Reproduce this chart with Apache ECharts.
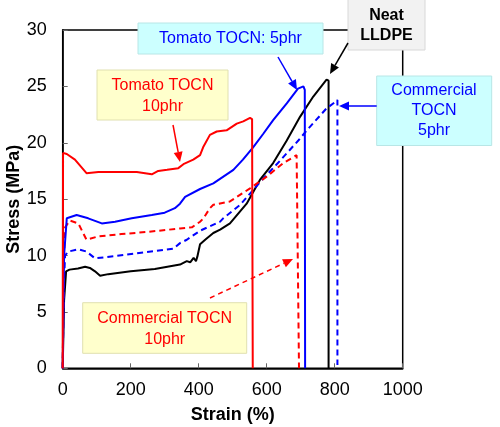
<!DOCTYPE html>
<html><head><meta charset="utf-8">
<script src="https://cdn.jsdelivr.net/npm/echarts@6/dist/echarts.min.js"></script>
<style>html,body{margin:0;padding:0;background:#fff}#c{width:500px;height:427px}</style>
</head><body><div id="c"></div>
<script>
// Strain (%) vs Stress (MPa) pairs
var neatLLDPE = [[0,0],[4,6],[10,8.6],[20,8.75],[45,8.85],[66,9.0],[80,8.9],[95,8.6],[110,8.2],[134,8.35],[200,8.6],[271,8.8],[345,9.2],[365,9.5],[375,9.4],[385,9.8],[392,9.5],[396,9.9],[404,11.0],[419,11.4],[443,12.0],[463,12.3],[492,12.85],[541,14.6],[580,16.7],[619,18.2],[659,20.2],[698,22.3],[737,24.1],[776,25.6],[779,25.7],[782,25.5],[782,0]];
var commercial5 = [[0,0],[3,7],[7,10.0],[16,10.35],[46,10.55],[70,10.35],[95,9.75],[154,9.95],[271,10.4],[325,10.6],[345,11.1],[365,11.4],[404,12.2],[463,13.0],[472,13.3],[522,14.5],[580,16.5],[639,18.4],[693,20.2],[718,21.1],[776,23.05],[801,23.6],[808,23.8],[808,0.3]];
var commercial10 = [[0,0],[3,9],[7,12.5],[21,13.1],[46,12.85],[70,11.4],[105,11.7],[173,11.9],[252,12.1],[345,12.4],[380,12.5],[404,13.0],[414,13.3],[433,14.2],[443,14.5],[492,14.8],[551,15.96],[600,17.0],[649,18.2],[688,18.9],[693,18.9],[695,0]];
var tomato5 = [[0,0],[4,10],[12,13.3],[41,13.6],[75,13.3],[115,12.85],[154,13.0],[203,13.3],[262,13.6],[300,13.8],[330,14.2],[345,14.6],[360,15.2],[404,15.9],[443,16.4],[502,17.6],[530,18.5],[560,19.6],[590,20.8],[619,22.0],[659,23.5],[692,24.8],[708,25.0],[712,24.7],[713,0]];
var tomato10 = [[0,0],[1,19.1],[12,19.0],[36,18.5],[70,17.3],[105,17.4],[150,17.4],[218,17.4],[262,17.2],[281,17.5],[307,17.6],[340,17.75],[355,18.1],[384,18.5],[404,18.9],[413,19.6],[433,20.7],[453,21.0],[482,21.1],[512,21.7],[531,21.9],[551,22.2],[557,22.1],[559,0]];
var xTicks = {min:0, max:1000, interval:200};
var yTicks = {min:0, max:30, interval:5};

var FONT = '"Liberation Sans", Arial, sans-serif';
function lineSeries(name, data, color, dashed){
  return {name:name, type:'line', data:data, showSymbol:false, symbol:'none', clip:false,
    lineStyle:{color:color, width:2, type: dashed ? [6,4] : 'solid'}, z: 3};
}
function box(x,y,w,h,fill,stroke){
  return {type:'rect', shape:{x:x,y:y,width:w,height:h}, style:{fill:fill, stroke:stroke, lineWidth:1}, z:100};
}
function txt(cx,cy,s,color,bold){
  return {type:'text', x:cx, y:cy, style:{text:s, fill:color, font:(bold?'bold ':'')+'16px '+FONT, textAlign:'center', textVerticalAlign:'middle'}, z:101};
}
function arrow(x1,y1,x2,y2,color,dashed){
  var dx=x2-x1, dy=y2-y1, L=Math.sqrt(dx*dx+dy*dy), ux=dx/L, uy=dy/L;
  var hl=10, hw=4.5;
  var bx=x2-ux*hl, by=y2-uy*hl;
  return [
    {type:'line', shape:{x1:x1,y1:y1,x2:bx,y2:by}, style:{stroke:color, lineWidth:1.5, lineDash: dashed?[5,4]:null}, z:102},
    {type:'polygon', shape:{points:[[x2,y2],[bx-uy*hw,by+ux*hw],[bx+uy*hw,by-ux*hw]]}, style:{fill:color}, z:102}
  ];
}
var CY='#ccffff', CYB='#b8e6e6', YE='#ffffcc', YEB='#e0e0b0', GR='#f2f2f2', GRB='#d8d8d8';
var graphics = [].concat(
  [box(138,23,185,31,CY,CYB), txt(230.5,39,'Tomato TOCN: 5phr','#0000ff',false)],
  arrow(278,57,297,90,'#0000ff',false),
  [box(348,-1,77,51,GR,GRB), txt(386.5,16,'Neat','#000',true), txt(386.5,36,'LLDPE','#000',true)],
  arrow(348,43,330,74,'#000',false),
  [box(376.7,76,115,69.5,CY,CYB), txt(434,91,'Commercial','#0000ff',false), txt(434,111,'TOCN','#0000ff',false), txt(434,131,'5phr','#0000ff',false)],
  arrow(376.7,106,339,106,'#0000ff',false),
  [box(97,70,131,50,YE,YEB), txt(162.5,85.5,'Tomato TOCN','#ff0000',false), txt(162.5,107,'10phr','#ff0000',false)],
  arrow(173,125,180,162,'#ff0000',false),
  [box(82.7,302.7,164,50.6,YE,YEB), txt(164.7,318.5,'Commercial TOCN','#ff0000',false), txt(164.7,339.5,'10phr','#ff0000',false)],
  arrow(210,298,293,259,'#ff0000',true)
);

var chart = echarts.init(document.getElementById('c'), null, {renderer:'canvas'});
chart.setOption({
  animation:false,
  backgroundColor:'#fff',
  grid:{left:62.7, right:97.3, top:30, bottom:58.7, containLabel:false, outerBoundsMode:'none', show:true, borderColor:'#000', borderWidth:1.5, backgroundColor:'transparent'},
  xAxis:{type:'value', min:xTicks.min, max:xTicks.max, interval:xTicks.interval,
    name:'Strain (%)', nameLocation:'middle', nameGap:38, nameMoveOverlap:false,
    nameTextStyle:{fontFamily:FONT, fontSize:18, fontWeight:'bold', color:'#000'},
    axisLine:{onZero:false, lineStyle:{color:'#000', width:1.5}},
    axisTick:{inside:true, length:5, lineStyle:{color:'#666'}},
    axisLabel:{fontFamily:FONT, fontSize:18, color:'#000', margin:13, formatter:function(v){return String(v);}},
    splitLine:{show:false}},
  yAxis:{type:'value', min:yTicks.min, max:yTicks.max, interval:yTicks.interval,
    name:'Stress (MPa)', nameLocation:'middle', nameGap:40, nameRotate:90, nameMoveOverlap:false,
    nameTextStyle:{fontFamily:FONT, fontSize:18, fontWeight:'bold', color:'#000'},
    axisLine:{onZero:false, lineStyle:{color:'#000', width:1.5}},
    axisTick:{inside:true, length:5, lineStyle:{color:'#666'}},
    axisLabel:{fontFamily:FONT, fontSize:18, color:'#000', margin:16, formatter:function(v){return String(v);}},
    splitLine:{show:false}},
  series:[
    lineSeries('Neat LLDPE', neatLLDPE, '#000000', false),
    lineSeries('Commercial TOCN 5phr', commercial5, '#0000ff', true),
    lineSeries('Commercial TOCN 10phr', commercial10, '#ff0000', true),
    lineSeries('Tomato TOCN 5phr', tomato5, '#0000ff', false),
    lineSeries('Tomato TOCN 10phr', tomato10, '#ff0000', false)
  ],
  graphic: graphics
});
</script></body></html>
